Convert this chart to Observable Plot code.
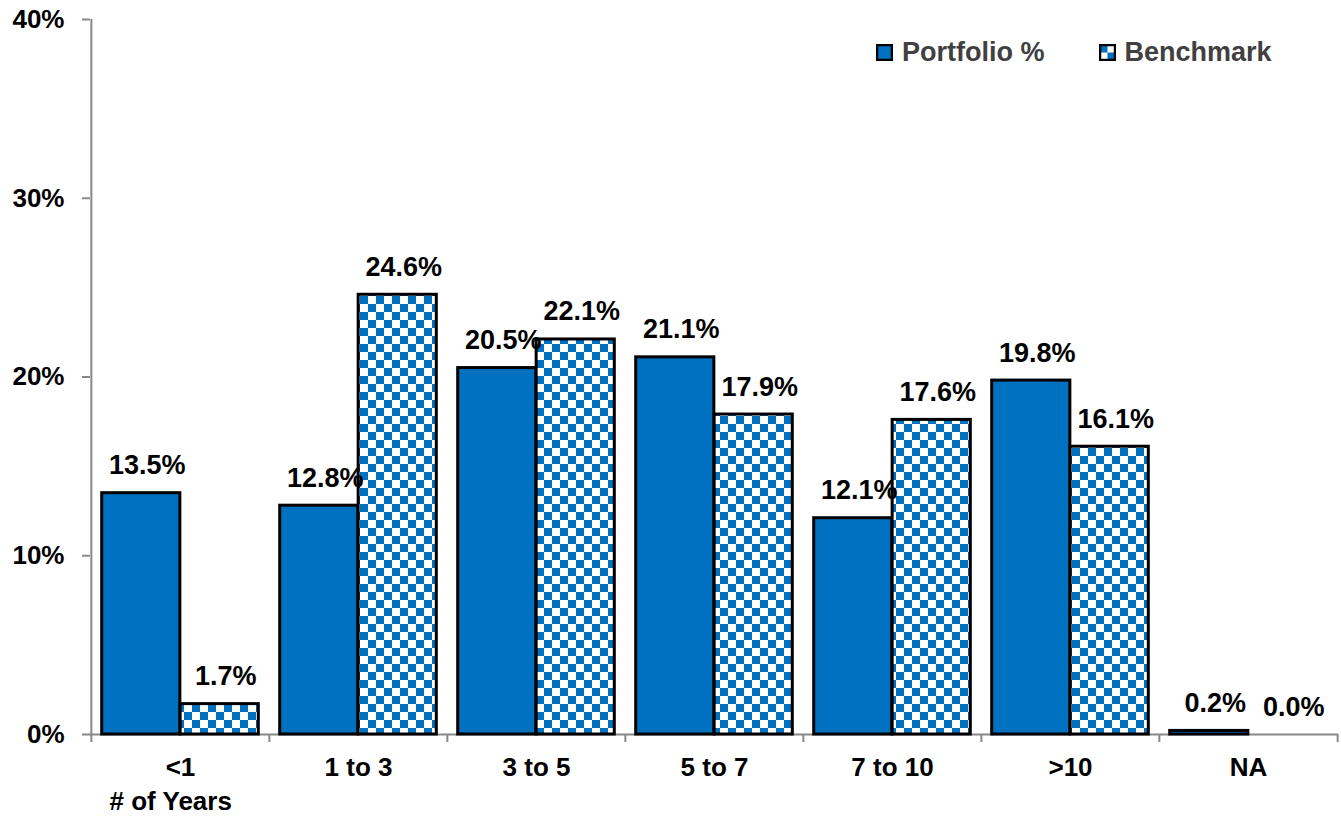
<!DOCTYPE html>
<html>
<head>
<meta charset="utf-8">
<script src="https://cdn.jsdelivr.net/npm/d3@7"></script>
<script src="https://cdn.jsdelivr.net/npm/@observablehq/plot@0.6"></script>
<style>
  html, body { margin: 0; padding: 0; background: #fff; overflow: hidden; }
  #chart { position: relative; width: 1341px; height: 817px; }
  #legend { position: absolute; top: 37px; left: 876px; display: flex; align-items: center;
            font-family: "Liberation Sans", Arial, sans-serif; font-weight: bold; font-size: 27px; color: #404040; }
  #legend .item { display: flex; align-items: center; }
  #legend svg { margin-right: 9px; }
</style>
</head>
<body>
<div id="chart"><div id="legend"></div></div>
<script>
const categories = ["<1", "1 to 3", "3 to 5", "5 to 7", "7 to 10", ">10", "NA"];
const portfolio = [13.5, 12.8, 20.5, 21.1, 12.1, 19.8, 0.2];
const benchmark = [1.7, 24.6, 22.1, 17.9, 17.6, 16.1, 0.0];
const yTicks = [0, 10, 20, 30, 40];
const seriesNames = ["Portfolio %", "Benchmark"];
const xTitle = "# of Years";

const W = 1341, H = 817, mL = 90, mR = 3, mT = 19, mB = 83;
const step = (W - mL - mR) / categories.length;
const outer = step * 0.06, half = step / 2;
const blue = "#0070C0", axisGray = "#888888";

const rows = categories.map((c, i) => ({cat: c, portfolio: portfolio[i], benchmark: benchmark[i]}));
const fmt = v => v.toFixed(1) + "%";

const chart = Plot.plot({
  width: W, height: H,
  marginLeft: mL, marginRight: mR, marginTop: mT, marginBottom: mB,
  style: {fontFamily: "'Liberation Sans', Arial, sans-serif", fontSize: "26px", fontWeight: "bold", color: "#000", background: "#fff"},
  x: {type: "band", domain: categories, padding: 0, label: null},
  y: {domain: [0, 40], label: null},
  marks: [
    Plot.ruleY([0], {stroke: axisGray, strokeWidth: 2}),
    Plot.ruleX([categories[0]], {dx: -half, y1: 0, y2: 40, stroke: axisGray, strokeWidth: 2}),
    Plot.ruleX(categories, {dx: -half, y1: 0, y2: 0, insetBottom: -8, stroke: axisGray, strokeWidth: 2}),
    Plot.ruleX([categories[categories.length - 1]], {dx: half, y1: 0, y2: 0, insetBottom: -8, stroke: axisGray, strokeWidth: 2}),
    Plot.axisY({ticks: yTicks, tickFormat: d => d + "%", tickSize: 8, tickPadding: 18, stroke: axisGray, strokeWidth: 2, fill: "#000", label: null}),
    Plot.axisX({tickSize: 0, tickPadding: 23, fill: "#000", label: null}),
    Plot.barY(rows, {x: "cat", y: "portfolio", fill: blue, stroke: "#000", strokeWidth: 3, insetLeft: outer, insetRight: half}),
    Plot.barY(rows.filter(d => d.benchmark > 0), {x: "cat", y: "benchmark", fill: "url(#checker)", stroke: "#000", strokeWidth: 3, insetLeft: half, insetRight: outer}),
    Plot.text(rows, {x: "cat", y: "portfolio", text: d => fmt(d.portfolio), dx: -half + outer + (half - outer) / 2 + 6, dy: -19, lineAnchor: "bottom", fill: "#000", fontSize: 27}),
    Plot.text(rows, {x: "cat", y: "benchmark", text: d => fmt(d.benchmark), dx: (half - outer) / 2 + 6, dy: -19, lineAnchor: "bottom", fill: "#000", fontSize: 27}),
    Plot.text([xTitle], {frameAnchor: "bottom-left", dx: 19, dy: 75, textAnchor: "start", lineAnchor: "bottom", fill: "#000"})
  ]
});

const defs = d3.select(chart).insert("defs", ":first-child");
const pat = defs.append("pattern").attr("id", "checker").attr("width", 16).attr("height", 16).attr("patternUnits", "userSpaceOnUse");
pat.append("rect").attr("width", 16).attr("height", 16).attr("fill", "#fff");
pat.append("rect").attr("width", 8).attr("height", 8).attr("fill", blue);
pat.append("rect").attr("x", 8).attr("y", 8).attr("width", 8).attr("height", 8).attr("fill", blue);

document.getElementById("chart").prepend(chart);

// Legend
const legend = d3.select("#legend");
seriesNames.forEach((name, i) => {
  const item = legend.append("div").attr("class", "item").style("margin-right", i === 0 ? "54px" : "0");
  const sw = item.append("svg").attr("width", 17).attr("height", 17);
  if (i === 0) {
    sw.append("rect").attr("x", 1).attr("y", 1).attr("width", 15).attr("height", 15).attr("fill", blue).attr("stroke", "#000").attr("stroke-width", 2.5);
  } else {
    sw.append("rect").attr("x", 1).attr("y", 1).attr("width", 15).attr("height", 15).attr("fill", "#fff");
    sw.append("rect").attr("x", 2).attr("y", 2).attr("width", 6.5).attr("height", 6.5).attr("fill", blue);
    sw.append("rect").attr("x", 8.5).attr("y", 8.5).attr("width", 6.5).attr("height", 6.5).attr("fill", blue);
    sw.append("rect").attr("x", 1).attr("y", 1).attr("width", 15).attr("height", 15).attr("fill", "none").attr("stroke", "#000").attr("stroke-width", 2.5);
  }
  item.append("span").text(name);
});
</script>
</body>
</html>
